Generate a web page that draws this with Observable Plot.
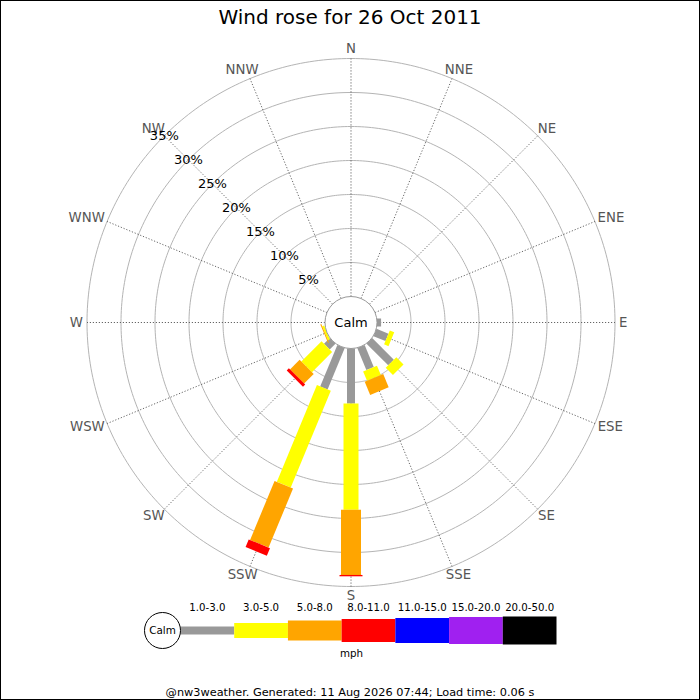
<!DOCTYPE html>
<html>
<head>
<meta charset="utf-8">
<script src="https://cdn.jsdelivr.net/npm/d3@7"></script>
<script src="https://cdn.jsdelivr.net/npm/@observablehq/plot@0.6"></script>
<style>
  html, body { margin: 0; padding: 0; background: #fff; }
  #wrap { position: relative; width: 700px; height: 700px; overflow: hidden; font-family: "DejaVu Sans", sans-serif; background: #fff; }
  #title { height: 30px; box-sizing: border-box; padding-top: 3px; line-height: 28px; text-align: center; font-size: 20px; color: #000; }
  #footer { height: 35px; box-sizing: border-box; padding-top: 21px; line-height: 13px; text-align: center; font-size: 11.3px; color: #000; }
  #border { position: absolute; left: 0; top: 0; width: 700px; height: 700px; box-sizing: border-box; border: 1px solid #000; pointer-events: none; }
  svg { display: block; }
</style>
</head>
<body>
<div id="wrap">
  <div id="title">Wind rose for 26 Oct 2011</div>
  <div id="chart"></div>
  <div id="legend"></div>
  <div id="footer">@nw3weather. Generated: 11 Aug 2026 07:44; Load time: 0.06 s</div>
  <div id="border"></div>
</div>
<script>
// ---------- data ----------
const directions = ["N","NNE","NE","ENE","E","ESE","SE","SSE","S","SSW","SW","WSW","W","WNW","NW","NNW"];
const speedBins = ["1.0-3.0","3.0-5.0","5.0-8.0","8.0-11.0","11.0-15.0","15.0-20.0","20.0-50.0"];
const binColors = ["#999999","#ffff00","#ffa500","#ff0000","#0000ff","#a020f0","#000000"];
// percent of time, per direction (N..NNW), per speed bin
const pct_1_3   = [0,0,0,0,0.6,1.9,4.5,3.5,8.1,6.6,1.2,0,0,0,0,0];
const pct_3_5   = [0,0,0,0,0,0.7,1.5,1.5,15.6,15.4,4.2,0.3,0,0,0,0];
const pct_5_8   = [0,0,0,0,0,0,0,2.1,9.6,9.4,2.0,0.15,0,0,0,0];
const pct_8_11  = [0,0,0,0,0,0,0,0,0.2,1.2,0.45,0,0,0,0,0];
const pct_11_15 = [0,0,0,0,0,0,0,0,0,0,0,0,0,0,0,0];
const pct_15_20 = [0,0,0,0,0,0,0,0,0,0,0,0,0,0,0,0];
const pct_20_50 = [0,0,0,0,0,0,0,0,0,0,0,0,0,0,0,0];
const ringLabels = [5,10,15,20,25,30,35];
const unit = "mph";

// ---------- styling / layout ----------
const series = [pct_1_3, pct_3_5, pct_5_8, pct_8_11, pct_11_15, pct_15_20, pct_20_50];
const barWidths = [8, 15, 20, 23, 25, 27, 28];
const k = 6.8;             // px per percent
const calmPx = 26;
const calm0 = calmPx / k;  // radial offset (calm circle)
const W = 700, H = 565, cx = 350.5, cy = 292;
const font = "DejaVu Sans, sans-serif";
const dirFont = 13.3;

const bearing = i => i * 22.5;
const sin = b => Math.sin(b * Math.PI / 180);
const cos = b => Math.cos(b * Math.PI / 180);
const px = (b, r) => r * sin(b);
const py = (b, r) => r * cos(b);

// text width measure (for placing compass labels just outside the rim)
const ctx = document.createElement("canvas").getContext("2d");
ctx.font = `${dirFont}px "DejaVu Sans"`;
const textW = t => ctx.measureText(t).width;

// stacked segments
const segs = [];
directions.forEach((d, i) => {
  let acc = calm0;
  series.forEach((s, j) => {
    const v = s[i];
    if (v > 0) {
      const b = bearing(i);
      segs.push({dir: d, bin: j, x1: px(b, acc), y1: py(b, acc), x2: px(b, acc + v), y2: py(b, acc + v)});
      acc += v;
    }
  });
});

const maxRing = d3.max(ringLabels);
const rings = ringLabels.flatMap(p => d3.range(0, 361, 1).map(a => ({p, x: px(a, calm0 + p), y: py(a, calm0 + p)})));
const spokes = directions.map((d, i) => ({d, x1: px(bearing(i), calm0), y1: py(bearing(i), calm0), x2: px(bearing(i), calm0 + maxRing), y2: py(bearing(i), calm0 + maxRing)}));
const labelR = 268 / k;
const dirLabels = directions.map((d, i) => {
  const b = bearing(i);
  return {d, x: px(b, labelR) + sin(b) * textW(d) / 2 / k, y: py(b, labelR) + cos(b) * 5.5 / k};
});
const pctLabels = ringLabels.map(p => ({t: p + "%", x: px(315, calm0 + p), y: py(315, calm0 + p)}));

const chart = Plot.plot({
  width: W, height: H,
  margin: 0,
  x: {domain: [-cx / k, (W - cx) / k], axis: null},
  y: {domain: [-(H - cy) / k, cy / k], axis: null},
  style: {fontFamily: font, background: "transparent", overflow: "visible"},
  marks: [
    Plot.line(rings, {x: "x", y: "y", z: "p", stroke: "#b4b4b4", strokeWidth: 1}),
    Plot.link(spokes, {x1: "x1", y1: "y1", x2: "x2", y2: "y2", stroke: "#555", strokeWidth: 0.9, strokeDasharray: "1.2,1.8"}),
    ...series.map((s, j) => Plot.link(segs.filter(g => g.bin === j), {
      x1: "x1", y1: "y1", x2: "x2", y2: "y2",
      stroke: binColors[j], strokeWidth: barWidths[j], strokeLinecap: "butt"
    })),
    Plot.dot([0], {x: () => 0, y: () => 0, r: calmPx, fill: "white", stroke: "#999", strokeWidth: 1}),
    Plot.text(["Calm"], {x: () => 0, y: () => 0, text: d => d, fontSize: 13, fill: "#000"}),
    Plot.text(dirLabels, {x: "x", y: "y", text: "d", fontSize: dirFont, fill: "#555"}),
    Plot.text(pctLabels, {x: "x", y: "y", text: "t", fontSize: 13, fill: "#000"})
  ]
});
document.getElementById("chart").appendChild(chart);

// ---------- legend ----------
const legendRows = speedBins.map((b, i) => ({b, i}));
const legend = Plot.plot({
  width: W, height: 70,
  marginLeft: 180, marginRight: 144, marginTop: 0, marginBottom: 0,
  x: {domain: [0, speedBins.length], axis: null},
  y: {domain: [-1, 1], axis: null},
  style: {fontFamily: font, background: "transparent", overflow: "visible"},
  marks: [
    ...legendRows.map(r => Plot.link([r], {
      x1: d => d.i, x2: d => d.i + 1, y1: () => 0, y2: () => 0,
      stroke: binColors[r.i], strokeWidth: barWidths[r.i], strokeLinecap: "butt"
    })),
    Plot.text(legendRows, {x: d => d.i + 0.5, y: () => 0, text: "b", dy: -23, fontSize: 10.2, fill: "#000"}),
    Plot.dot([0], {x: () => 0, y: () => 0, r: 18, dx: -18, fill: "white", stroke: "#000", strokeWidth: 1}),
    Plot.text(["Calm"], {x: () => 0, y: () => 0, text: d => d, dx: -18, fontSize: 10.4, fill: "#000"}),
    Plot.text([unit], {frameAnchor: "middle", text: d => d, dx: -17, dy: 23, fontSize: 10.3, fill: "#000"})
  ]
});
document.getElementById("legend").appendChild(legend);
</script>
</body>
</html>
